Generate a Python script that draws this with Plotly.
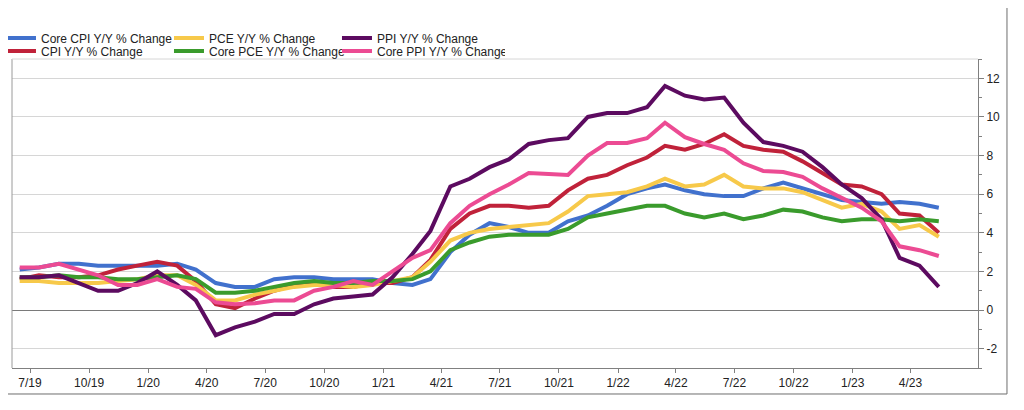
import pandas as pd
import plotly.graph_objects as go

# Monthly observations, Jun 2019 - May 2023
months = pd.date_range("2019-06-01", periods=48, freq="MS") + pd.Timedelta(days=14)

core_cpi = [2.1, 2.2, 2.4, 2.4, 2.3, 2.3, 2.3,
            2.3, 2.4, 2.1, 1.4, 1.2, 1.2, 1.6, 1.7, 1.7, 1.6, 1.6, 1.6,
            1.4, 1.3, 1.6, 3.0, 3.9, 4.5, 4.3, 4.0, 4.0, 4.6, 4.9, 5.4,
            6.0, 6.3, 6.5, 6.2, 6.0, 5.9, 5.9, 6.3, 6.6, 6.3, 6.0, 5.7,
            5.6, 5.5, 5.6, 5.5, 5.3]

cpi = [1.6, 1.8, 1.7, 1.7, 1.8, 2.1, 2.3,
       2.5, 2.3, 1.5, 0.3, 0.1, 0.6, 1.0, 1.3, 1.4, 1.2, 1.2, 1.4,
       1.4, 1.7, 2.6, 4.2, 5.0, 5.4, 5.4, 5.3, 5.4, 6.2, 6.8, 7.0,
       7.5, 7.9, 8.5, 8.3, 8.6, 9.1, 8.5, 8.3, 8.2, 7.7, 7.1, 6.5,
       6.4, 6.0, 5.0, 4.9, 4.0]

pce = [1.5, 1.5, 1.4, 1.4, 1.4, 1.5, 1.6,
       1.8, 1.8, 1.3, 0.5, 0.5, 0.8, 1.0, 1.2, 1.3, 1.3, 1.2, 1.3,
       1.5, 1.7, 2.5, 3.6, 4.0, 4.2, 4.3, 4.4, 4.5, 5.1, 5.9, 6.0,
       6.1, 6.4, 6.8, 6.4, 6.5, 7.0, 6.4, 6.3, 6.3, 6.1, 5.7, 5.3,
       5.5, 5.1, 4.2, 4.4, 3.8]

core_pce = [1.7, 1.7, 1.8, 1.7, 1.7, 1.6, 1.6,
            1.7, 1.8, 1.6, 0.9, 0.9, 1.0, 1.2, 1.4, 1.5, 1.4, 1.4, 1.5,
            1.5, 1.6, 2.0, 3.1, 3.5, 3.8, 3.9, 3.9, 3.9, 4.2, 4.8, 5.0,
            5.2, 5.4, 5.4, 5.0, 4.8, 5.0, 4.7, 4.9, 5.2, 5.1, 4.8, 4.6,
            4.7, 4.7, 4.6, 4.7, 4.6]

ppi = [1.7, 1.7, 1.8, 1.4, 1.0, 1.0, 1.4,
       2.0, 1.3, 0.5, -1.3, -0.9, -0.6, -0.2, -0.2, 0.3, 0.6, 0.7, 0.8,
       1.7, 2.9, 4.1, 6.4, 6.8, 7.4, 7.8, 8.6, 8.8, 8.9, 10.0, 10.2,
       10.2, 10.5, 11.6, 11.1, 10.9, 11.0, 9.7, 8.7, 8.5, 8.2, 7.4, 6.5,
       5.8, 4.7, 2.7, 2.3, 1.2]

core_ppi = [2.2, 2.2, 2.4, 2.1, 1.8, 1.3, 1.3,
            1.6, 1.2, 1.1, 0.4, 0.3, 0.35, 0.5, 0.5, 1.0, 1.2, 1.5, 1.3,
            2.0, 2.7, 3.1, 4.5, 5.4, 6.0, 6.5, 7.1, 7.05, 7.0, 8.0, 8.65,
            8.65, 8.9, 9.7, 8.95, 8.6, 8.3, 7.6, 7.2, 7.15, 6.9, 6.3, 5.8,
            5.3, 4.6, 3.3, 3.1, 2.8]

tick_dates = ["2019-07-01", "2019-10-01", "2020-01-01", "2020-04-01",
              "2020-07-01", "2020-10-01", "2021-01-01", "2021-04-01",
              "2021-07-01", "2021-10-01", "2022-01-01", "2022-04-01",
              "2022-07-01", "2022-10-01", "2023-01-01", "2023-04-01"]
tick_labels = ["7/19", "10/19", "1/20", "4/20", "7/20", "10/20", "1/21", "4/21",
               "7/21", "10/21", "1/22", "4/22", "7/22", "10/22", "1/23", "4/23"]

y_ticks = [-2, 0, 2, 4, 6, 8, 10, 12]
y_labels = ["-2", "0", "2", "4", "6", "8", "10", "12"]

series = [
    ("Core CPI Y/Y % Change", core_cpi, "#4171cd", "legend"),
    ("CPI Y/Y % Change", cpi, "#c0223a", "legend2"),
    ("PCE Y/Y % Change", pce, "#f7c94a", "legend"),
    ("Core PCE Y/Y % Change", core_pce, "#3a9b2c", "legend2"),
    ("PPI Y/Y % Change", ppi, "#5c0b60", "legend"),
    ("Core PPI Y/Y % Change", core_ppi, "#ec4b93", "legend2"),
]

for _, vals, _, _ in series:
    assert len(vals) == len(months)

FONT = "Arial, 'Liberation Sans', sans-serif"

fig = go.Figure()
for name, vals, color, leg in series:
    fig.add_trace(go.Scatter(
        x=months, y=vals, name=name, mode="lines",
        line=dict(color=color, width=4),
        legend=leg,
    ))

legend_common = dict(
    orientation="h", xanchor="left", x=-0.0114, yanchor="middle",
    entrywidth=123, entrywidthmode="pixels", bgcolor="rgba(0,0,0,0)",
    font=dict(family=FONT, size=12, color="#222222"),
    itemwidth=30, tracegroupgap=0,
)

fig.update_layout(
    width=1024, height=410,
    margin=dict(l=4, r=54, t=51, b=50, autoexpand=False),
    paper_bgcolor="white", plot_bgcolor="white",
    font=dict(family=FONT, size=12, color="#222222"),
    legend=dict(y=1.068, **legend_common),
    legend2=dict(y=1.026, **legend_common),
    xaxis=dict(
        type="date",
        range=["2019-06-03", "2023-07-15"],
        tickvals=tick_dates, ticktext=tick_labels,
        showgrid=False, zeroline=False,
        showline=True, linecolor="#808080", linewidth=1,
        ticks="outside", ticklen=4, tickcolor="#808080",
        tickfont=dict(family=FONT, size=12, color="#222222"),
    ),
    yaxis=dict(
        side="right", range=[-3, 13],
        tickvals=y_ticks, ticktext=y_labels,
        showgrid=True, gridcolor="#d6d6d6", gridwidth=1,
        zeroline=True, zerolinecolor="#7a7a7a", zerolinewidth=1,
        showline=True, linecolor="#808080", linewidth=1,
        ticks="outside", ticklen=5, tickcolor="#808080",
        minor=dict(dtick=1, tick0=1, ticks="outside", ticklen=3,
                   tickcolor="#808080", showgrid=False),
        tickfont=dict(family=FONT, size=12, color="#222222"),
    ),
    showlegend=True,
)

# plot-area borders (left, top) and outer chart frame
fig.add_shape(type="line", xref="paper", yref="paper", x0=0, x1=0, y0=0, y1=1,
              line=dict(color="#9a9a9a", width=1))
fig.add_shape(type="line", xref="paper", yref="paper", x0=0, x1=1, y0=1, y1=1,
              line=dict(color="#d6d6d6", width=1))
fig.add_shape(type="rect", xref="paper", yref="paper",
              x0=-0.0052, x1=1.030, y0=-0.0841, y1=1.1683,
              line=dict(color="#6e6e6e", width=1))

fig.write_html("out.html")
